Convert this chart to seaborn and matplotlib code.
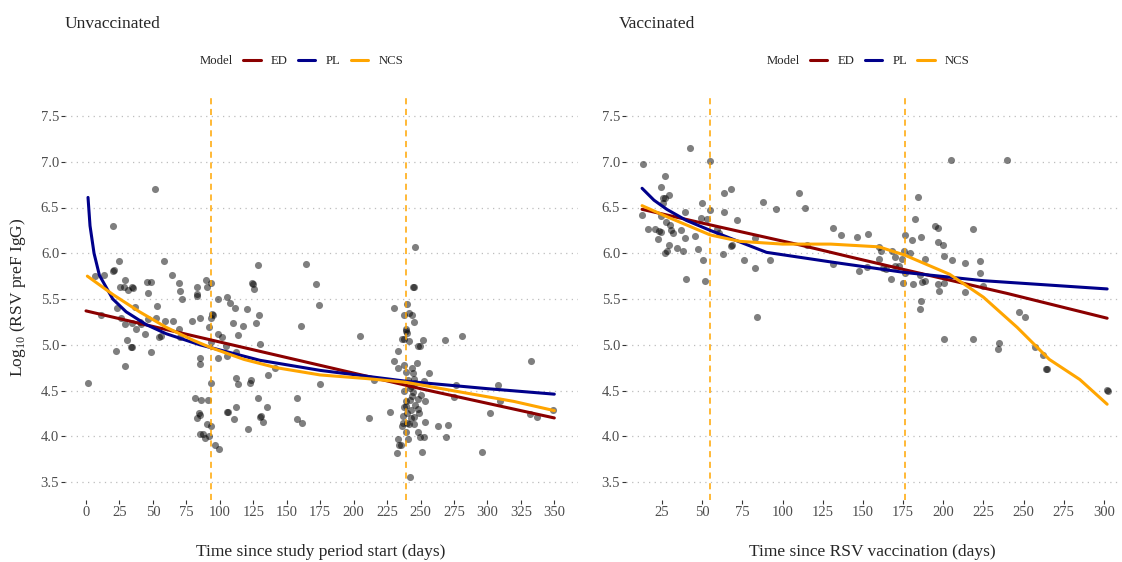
import numpy as np
import pandas as pd
import matplotlib
matplotlib.use('Agg')
import matplotlib.pyplot as plt
import seaborn as sns
from matplotlib.lines import Line2D

# Unvaccinated: days since study period start vs log10 RSV preF IgG
unvac_day = [51.3, 20.2, 24.4, 20.2, 20.6, 6.5, 13.2, 58.3, 64.3, 29.4,
             25.4, 28.2, 31.4, 34.2, 35.3, 45.4, 48.4, 46.3, 69.3, 70.3,
             71.5, 83.2, 83.2, 83.2, 89.5, 90.4, 93.4, 98.4, 105.4, 107.4,
             111.4, 120.3, 124.0, 124.5, 125.3, 128.3, 164.2, 172.1, 174.1, 23.4,
             36.4, 53.3, 129.3, 127.3, 117.3, 110.1, 113.3, 101.6, 98.4, 104.4,
             105.2, 112.1, 98.4, 130.3, 141.3, 136.2, 160.5, 175.0, 112.3, 113.4,
             122.3, 123.3, 128.3, 135.3, 130.3, 130.8, 132.3, 110.4, 105.4, 105.9,
             112.3, 121.3, 157.5, 157.5, 161.4, 1.5, 11.2, 22.4, 29.4, 30.4,
             33.6, 34.0, 48.4, 37.4, 44.3, 54.3, 56.3, 26.4, 29.4, 34.4,
             40.4, 46.3, 52.3, 59.3, 65.2, 79.2, 85.2, 93.2, 95.1, 92.2,
             69.3, 70.3, 85.2, 85.2, 93.2, 93.2, 81.2, 86.2, 91.2, 84.2,
             85.2, 83.2, 90.2, 93.2, 85.2, 87.2, 89.2, 92.2, 96.2, 99.4,
             204.6, 215.0, 41.3, 94.0, 246.1, 244.6, 245.4, 230.4, 240.1, 237.9,
             241.2, 243.4, 245.4, 239.2, 239.2, 236.2, 237.9, 240.1, 241.2, 247.9,
             249.6, 252.1, 268.3, 281.2, 233.2, 230.4, 233.2, 237.7, 243.4, 247.1,
             244.6, 256.4, 245.4, 252.3, 276.3, 308.2, 332.4, 275.0, 309.2, 242.2,
             244.6, 243.7, 248.4, 253.4, 239.2, 239.2, 237.9, 242.7, 246.1, 245.4,
             249.1, 253.4, 227.2, 211.3, 237.2, 239.7, 236.0, 239.2, 240.4, 233.2,
             233.7, 235.2, 232.2, 248.4, 249.6, 252.3, 251.3, 263.3, 270.3, 269.3,
             242.4, 296.2, 302.2, 332.0, 337.3, 349.3, 241.0, 243.0, 238.0, 246.0,
             240.0, 243.0, 237.0, 245.0, 248.0, 239.0, 242.0, 250.0, 241.7]
unvac_igg = [6.70, 6.30, 5.92, 5.81, 5.82, 5.75, 5.76, 5.92, 5.76, 5.71,
             5.63, 5.63, 5.60, 5.63, 5.62, 5.69, 5.69, 5.57, 5.68, 5.59,
             5.50, 5.63, 5.56, 5.53, 5.71, 5.63, 5.68, 5.50, 5.52, 5.46,
             5.40, 5.39, 5.67, 5.66, 5.61, 5.87, 5.88, 5.66, 5.43, 5.40,
             5.41, 5.42, 5.32, 5.24, 5.20, 5.24, 5.11, 5.09, 5.12, 4.99,
             4.88, 4.92, 4.86, 5.01, 4.75, 4.67, 5.20, 4.57, 4.64, 4.57,
             4.58, 4.61, 4.42, 4.32, 4.21, 4.22, 4.16, 4.19, 4.27, 4.27,
             4.32, 4.08, 4.42, 4.19, 4.14, 4.58, 5.32, 4.93, 4.77, 5.05,
             4.98, 4.97, 4.92, 5.17, 5.12, 5.09, 5.10, 5.29, 5.23, 5.24,
             5.25, 5.28, 5.29, 5.26, 5.26, 5.26, 5.29, 5.29, 5.33, 5.19,
             5.17, 5.09, 4.85, 4.79, 5.03, 4.58, 4.42, 4.40, 4.40, 4.25,
             4.23, 4.20, 4.13, 4.11, 4.02, 4.02, 3.98, 4.00, 3.90, 3.86,
             5.10, 4.61, 5.23, 5.34, 6.07, 5.63, 5.63, 5.40, 5.45, 5.32,
             5.35, 5.33, 5.25, 5.17, 5.15, 5.06, 5.06, 5.13, 5.04, 4.99,
             4.99, 5.05, 5.05, 5.10, 4.93, 4.82, 4.75, 4.78, 4.75, 4.80,
             4.69, 4.69, 4.63, 4.60, 4.56, 4.56, 4.82, 4.43, 4.39, 4.53,
             4.48, 4.44, 4.41, 4.39, 4.39, 4.33, 4.32, 4.29, 4.34, 4.21,
             4.25, 4.16, 4.27, 4.20, 4.15, 4.15, 4.11, 4.05, 3.97, 3.97,
             3.90, 3.90, 3.82, 4.05, 3.99, 3.99, 3.83, 4.11, 4.12, 3.99,
             3.55, 3.83, 4.25, 4.24, 4.21, 4.29, 4.62, 4.55, 4.50, 4.58,
             4.25, 4.20, 4.22, 4.13, 4.30, 4.70, 4.40, 4.45, 4.13]

# Vaccinated: days since RSV vaccination vs log10 RSV preF IgG
vac_day = [13.4, 42.4, 54.7, 26.7, 24.6, 25.8, 26.7, 25.4, 29.6, 12.6,
           16.5, 20.5, 23.0, 24.2, 22.5, 24.6, 27.5, 30.0, 30.4, 31.7,
           36.7, 26.7, 27.9, 29.6, 34.5, 37.9, 39.5, 39.5, 39.8, 45.7,
           47.6, 49.9, 49.5, 52.8, 50.7, 51.8, 54.9, 59.4, 60.7, 62.8,
           63.8, 63.8, 67.8, 68.6, 67.8, 71.9, 75.9, 82.7, 82.7, 83.9,
           88.1, 92.0, 96.0, 110.3, 114.2, 115.4, 131.2, 131.2, 136.2, 146.2,
           147.4, 152.4, 153.2, 159.8, 159.8, 204.7, 239.7, 184.5, 182.6, 194.7,
           196.6, 218.7, 176.4, 180.6, 186.4, 196.8, 199.7, 161.5, 168.1, 170.2,
           174.4, 175.6, 179.5, 188.5, 200.7, 205.7, 213.6, 222.9, 222.9, 225.0,
           213.8, 162.4, 167.3, 170.2, 172.3, 175.2, 176.4, 181.4, 185.6, 186.8,
           188.9, 196.8, 197.6, 200.7, 186.4, 185.6, 247.0, 250.9, 200.7, 218.7,
           234.9, 233.9, 256.9, 261.9, 264.1, 264.5, 302.1, 302.3, 164.6]
vac_igg = [6.98, 7.15, 7.01, 6.84, 6.72, 6.60, 6.60, 6.55, 6.64, 6.42,
           6.27, 6.26, 6.24, 6.23, 6.16, 6.41, 6.34, 6.31, 6.25, 6.22,
           6.25, 6.00, 6.02, 6.09, 6.06, 6.03, 6.17, 6.45, 5.72, 6.19,
           6.05, 6.55, 6.38, 6.37, 5.93, 5.70, 6.47, 6.26, 6.22, 5.99,
           6.66, 6.45, 6.70, 6.09, 6.08, 6.36, 5.93, 6.17, 5.84, 5.30,
           6.56, 5.93, 6.48, 6.66, 6.49, 6.09, 6.28, 5.88, 6.20, 6.18,
           5.81, 5.85, 6.21, 6.07, 5.94, 7.02, 7.02, 6.62, 6.37, 6.30,
           6.28, 6.26, 6.20, 6.15, 6.18, 6.12, 6.09, 6.02, 6.02, 5.96,
           5.94, 6.02, 6.00, 5.94, 5.97, 5.93, 5.89, 5.91, 5.78, 5.64,
           5.58, 5.84, 5.72, 5.86, 5.86, 5.67, 5.78, 5.66, 5.76, 5.69,
           5.70, 5.66, 5.59, 5.68, 5.48, 5.39, 5.36, 5.30, 5.06, 5.06,
           5.02, 4.95, 4.97, 4.89, 4.73, 4.73, 4.51, 4.50, 5.83]

models = ['ED', 'PL', 'NCS']
model_colors = {'ED': '#8B0000', 'PL': '#00008B', 'NCS': '#FFA500'}

# model fits
unvac_ed_day = [0, 50, 100, 150, 200, 250, 300, 350]
unvac_ed_fit = [5.37, 5.20, 5.03, 4.86, 4.69, 4.52, 4.36, 4.20]
unvac_pl_day = [1.5, 3, 6, 10, 20, 30, 45, 60, 85, 130, 175, 240, 300, 350]
unvac_pl_fit = [6.61, 6.30, 6.00, 5.76, 5.50, 5.36, 5.22, 5.12, 5.00, 4.83, 4.72, 4.60, 4.52, 4.46]
unvac_ncs_day = [1, 20, 40, 60, 80, 93, 118, 142, 175, 210, 239, 285, 320, 350]
unvac_ncs_fit = [5.75, 5.55, 5.36, 5.19, 5.05, 4.97, 4.84, 4.75, 4.67, 4.63, 4.59, 4.47, 4.38, 4.28]

vac_ed_day = [12.6, 55, 111, 142, 176, 240, 302]
vac_ed_fit = [6.48, 6.31, 6.09, 5.96, 5.82, 5.56, 5.29]
vac_pl_day = [12.6, 20, 28, 40, 55, 90, 132, 176, 225, 302]
vac_pl_fit = [6.71, 6.58, 6.48, 6.36, 6.25, 6.01, 5.90, 5.79, 5.70, 5.61]
vac_ncs_day = [12.6, 28, 55, 73.5, 100, 130, 160, 176, 204, 225, 246, 266, 285, 302]
vac_ncs_fit = [6.52, 6.40, 6.20, 6.13, 6.10, 6.10, 6.07, 5.98, 5.77, 5.52, 5.19, 4.84, 4.62, 4.35]

unvac_cuts = [93.5, 239.3]
vac_cuts = [55.0, 176.4]


def curve_frame(ed, pl, ncs):
    parts = []
    for name, (d, f) in zip(models, [ed, pl, ncs]):
        parts.append(pd.DataFrame({'day': d, 'fit': f, 'Model': name}))
    return pd.concat(parts, ignore_index=True)


def draw_panel(ax, day, igg, curves, cuts, xlim, xticks):
    sns.scatterplot(x=day, y=igg, color='black', alpha=0.5, s=26,
                    linewidth=0, ax=ax, legend=False, zorder=2)
    for c in cuts:
        ax.axvline(c, color='#FFA500', lw=1.1, ls=(0, (4, 3)), zorder=3)
    sns.lineplot(data=curves, x='day', y='fit', hue='Model', hue_order=models,
                 palette=model_colors, lw=2.2, estimator=None, sort=True,
                 ax=ax, legend=False, zorder=4)
    ax.set_xlim(*xlim)
    ax.set_ylim(3.3, 7.7)
    ax.set_xticks(xticks)
    ax.set_yticks(np.arange(3.5, 7.51, 0.5))
    ax.set_yticklabels(['%.1f' % v for v in np.arange(3.5, 7.51, 0.5)])
    ax.grid(axis='y', linestyle=(0, (1, 3.5)), color='#bdbdbd', lw=0.9)
    ax.grid(axis='x', visible=False)
    for s in ax.spines.values():
        s.set_visible(False)
    ax.tick_params(bottom=True, left=True, length=3, width=0.8,
                   color='#333333', labelcolor='#4d4d4d',
                   labelsize=10.5, pad=1.2)
    ax.set_xlabel('')
    ax.set_ylabel('')

    handles = [Line2D([], [], color='none')] + \
        [Line2D([], [], color=model_colors[m], lw=2.2) for m in models]
    return handles


sns.set_theme(style='white')
plt.rcParams['font.family'] = ['Liberation Serif', 'DejaVu Serif']
plt.rcParams['mathtext.fontset'] = 'custom'
plt.rcParams['mathtext.rm'] = 'Liberation Serif'

fig = plt.figure(figsize=(11.22, 5.62), dpi=100)
ax1 = fig.add_axes([65 / 1122, 1 - 500.3 / 562, 513 / 1122, 402.6 / 562])
ax2 = fig.add_axes([626 / 1122, 1 - 500.3 / 562, 494 / 1122, 402.6 / 562])

unvac_curves = curve_frame((unvac_ed_day, unvac_ed_fit),
                           (unvac_pl_day, unvac_pl_fit),
                           (unvac_ncs_day, unvac_ncs_fit))
vac_curves = curve_frame((vac_ed_day, vac_ed_fit),
                         (vac_pl_day, vac_pl_fit),
                         (vac_ncs_day, vac_ncs_fit))

h = draw_panel(ax1, unvac_day, unvac_igg, unvac_curves, unvac_cuts,
               (-15.7, 367.7), np.arange(0, 351, 25))
draw_panel(ax2, vac_day, vac_igg, vac_curves, vac_cuts,
           (2.6, 310.0), np.arange(25, 301, 25))

for ax, cx in [(ax1, 0.434), (ax2, 0.462)]:
    ax.legend(h, ['Model'] + models, ncol=4, loc='center',
              bbox_to_anchor=(cx, 1.091), frameon=False, fontsize=9.2,
              handlelength=1.36, handletextpad=0.8, columnspacing=0.8)

fig.text(65 / 1122, 1 - 23.5 / 562, 'Unvaccinated', fontsize=12.5, va='center')
fig.text(619 / 1122, 1 - 23.5 / 562, 'Vaccinated', fontsize=12.5, va='center')
fig.text(321 / 1122, 1 - 552 / 562, 'Time since study period start (days)',
         fontsize=12.5, ha='center', va='center')
fig.text(872 / 1122, 1 - 552 / 562, 'Time since RSV vaccination (days)',
         fontsize=12.5, ha='center', va='center')
fig.text(18 / 1122, 1 - 297 / 562, r'Log$_{10}$ (RSV preF IgG)', fontsize=12.5,
         rotation=90, ha='center', va='center')

fig.savefig('out.png', dpi=100)
